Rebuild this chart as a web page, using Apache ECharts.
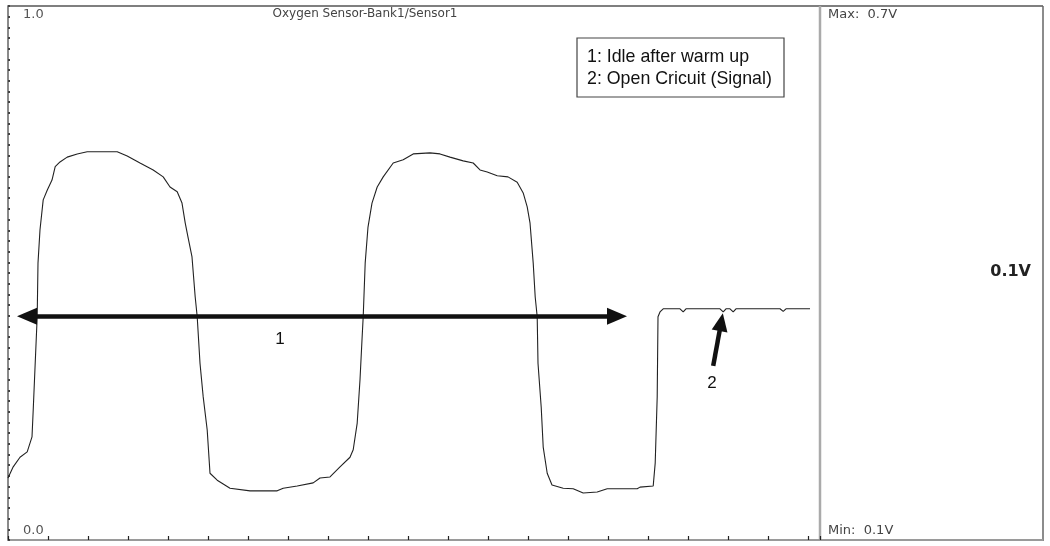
<!DOCTYPE html>
<html>
<head>
<meta charset="utf-8">
<script src="https://cdn.jsdelivr.net/npm/echarts@6/dist/echarts.min.js"></script>
<style>
html,body{margin:0;padding:0;background:#fff;}
#chart{width:1050px;height:546px;}
</style>
</head>
<body>
<div id="chart"></div>
<script>
// Time axis (tick units) and sensor voltage (V)
var timeValues = [0,0.13,0.3,0.48,0.6,0.63,0.68,0.73,0.75,0.8,0.88,0.98,1.1,1.18,1.3,1.48,1.73,1.98,2.3,2.73,2.98,3.3,3.63,3.88,4.05,4.23,4.35,4.43,4.5,4.6,4.68,4.73,4.8,4.88,4.98,5.05,5.23,5.55,6.05,6.73,6.88,7.23,7.63,7.8,8.05,8.3,8.55,8.63,8.73,8.8,8.85,8.88,8.93,9.0,9.1,9.23,9.38,9.63,9.88,10.13,10.55,10.8,11.05,11.38,11.63,11.8,11.98,12.23,12.5,12.73,12.88,12.98,13.05,13.13,13.18,13.23,13.25,13.33,13.38,13.48,13.6,13.88,14.13,14.38,14.73,14.98,15.73,15.8,16.13,16.18,16.23,16.25,16.3,16.38,16.8,16.88,16.95,17.8,17.88,17.95,18.05,18.13,18.2,19.3,19.38,19.45,20.05];
var voltValues = [0.116,0.137,0.155,0.165,0.193,0.243,0.331,0.418,0.519,0.581,0.637,0.655,0.674,0.699,0.708,0.717,0.723,0.727,0.727,0.727,0.719,0.706,0.693,0.680,0.661,0.652,0.631,0.594,0.567,0.530,0.455,0.418,0.331,0.268,0.206,0.125,0.112,0.097,0.092,0.092,0.097,0.101,0.107,0.116,0.118,0.137,0.155,0.169,0.219,0.300,0.375,0.418,0.519,0.586,0.631,0.661,0.680,0.706,0.712,0.723,0.725,0.723,0.717,0.710,0.706,0.693,0.689,0.682,0.680,0.670,0.650,0.624,0.594,0.519,0.455,0.418,0.331,0.249,0.174,0.125,0.103,0.097,0.096,0.088,0.090,0.096,0.096,0.099,0.101,0.144,0.268,0.418,0.427,0.433,0.433,0.427,0.433,0.433,0.427,0.433,0.433,0.427,0.433,0.433,0.428,0.433,0.433];
var chartTitle = 'Oxygen Sensor-Bank1/Sensor1';
var yTickLabels = ['1.0', '0.0'];
var legendLines = ['1: Idle after warm up', '2: Open Cricuit (Signal)'];
var maxText = 'Max:  0.7V';
var minText = 'Min:  0.1V';
var currentText = '0.1V';
// annotation arrows: [time, volt]
var arrow1 = [[0.475, 0.419], [15.225, 0.419]];
var arrow2 = [[17.63, 0.326], [17.83, 0.408]];
var annoLabels = [{text:'1', coord:[6.8, 0.375]}, {text:'2', coord:[17.6, 0.294]}];

var chart = echarts.init(document.getElementById('chart'));
var data = timeValues.map(function(t, i){ return [t, voltValues[i]]; });

chart.setOption({
  animation: false,
  backgroundColor: '#ffffff',
  grid: {left: 8, right: 230, top: 6, bottom: 6},
  xAxis: {
    type: 'value', min: 0, max: 20.3, interval: 1,
    axisLine: {show: true, onZero: false, lineStyle: {color: '#9a9a9a', width: 2}},
    axisTick: {show: true, inside: true, length: 4, lineStyle: {color: '#222', width: 1.2}},
    axisLabel: {show: false},
    splitLine: {show: false}
  },
  yAxis: {
    type: 'value', min: 0, max: 1, interval: 0.02,
    axisLine: {show: true, lineStyle: {color: '#8a8a8a', width: 2}},
    axisTick: {show: true, inside: true, length: 2, lineStyle: {color: '#444', width: 2}},
    axisLabel: {show: false},
    splitLine: {show: false}
  },
  graphic: [
    {type: 'line', shape: {x1: 8, y1: 6, x2: 1043, y2: 6}, style: {stroke: '#555', lineWidth: 1.5}},
    {type: 'line', shape: {x1: 1043, y1: 6, x2: 1043, y2: 541}, style: {stroke: '#666', lineWidth: 1.5}},
    {type: 'line', shape: {x1: 820, y1: 6, x2: 820, y2: 541}, style: {stroke: '#aaa', lineWidth: 2.5}},
    {type: 'line', shape: {x1: 820, y1: 540, x2: 1043, y2: 540}, style: {stroke: '#9a9a9a', lineWidth: 2}},
    {type: 'text', left: 23, top: 8, style: {text: yTickLabels[0], font: '13px "DejaVu Sans"', fill: '#555'}},
    {type: 'text', left: 23, top: 524, style: {text: yTickLabels[1], font: '13px "DejaVu Sans"', fill: '#555'}},
    {type: 'text', x: 365, y: 14, style: {text: chartTitle, font: '12px "DejaVu Sans"', fill: '#444', align: 'center', verticalAlign: 'middle'}},
    {type: 'text', left: 828, top: 8, style: {text: maxText, font: '13px "DejaVu Sans"', fill: '#444'}},
    {type: 'text', left: 828, top: 524, style: {text: minText, font: '13px "DejaVu Sans"', fill: '#444'}},
    {type: 'text', x: 1031, y: 272, style: {text: currentText, font: 'bold 16px "DejaVu Sans"', fill: '#222', align: 'right', verticalAlign: 'middle'}},
    {type: 'rect', shape: {x: 577, y: 38, width: 207, height: 59}, style: {fill: '#fff', stroke: '#444', lineWidth: 1.2}},
    {type: 'text', left: 587, top: 48, style: {text: legendLines[0], font: '17.8px "Liberation Sans"', fill: '#111'}},
    {type: 'text', left: 587, top: 70, style: {text: legendLines[1], font: '17.8px "Liberation Sans"', fill: '#111'}}
  ],
  series: [{
    type: 'line',
    data: data,
    showSymbol: false,
    smooth: false,
    lineStyle: {color: '#222', width: 1.1},
    markLine: {
      silent: true,
      symbol: ['triangle', 'triangle'],
      symbolSize: [17, 20],
      label: {show: false},
      lineStyle: {color: '#111', width: 4.5, type: 'solid'},
      data: [
        [{coord: arrow1[0]}, {coord: arrow1[1]}],
        [{coord: arrow2[0], symbol: 'none'}, {coord: arrow2[1], symbol: 'triangle', symbolSize: [16, 18]}]
      ]
    },
    markPoint: {
      silent: true,
      symbol: 'circle', symbolSize: 0,
      label: {show: true, position: 'inside', fontSize: 17, color: '#111', fontFamily: 'Liberation Sans', formatter: function(p){ return p.name; }},
      data: annoLabels.map(function(a){ return {name: a.text, coord: a.coord}; })
    }
  }]
});
</script>
</body>
</html>
